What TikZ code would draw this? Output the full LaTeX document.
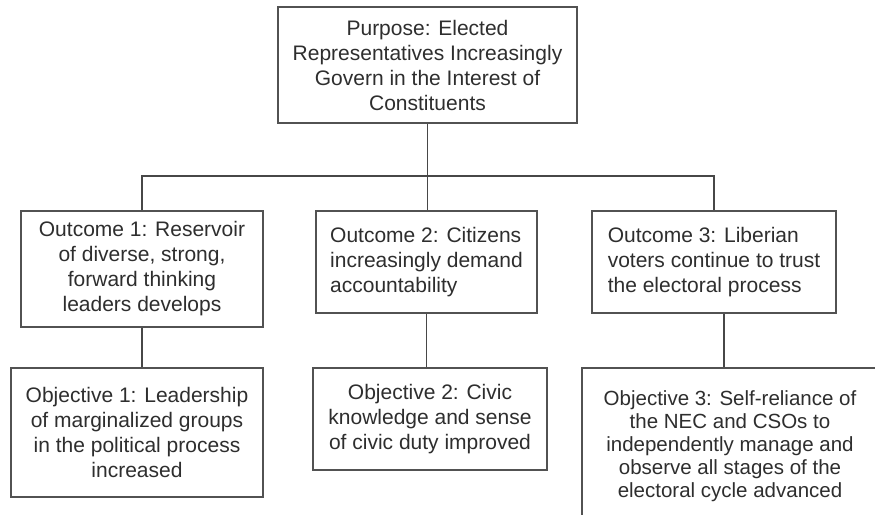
\documentclass[tikz,border=0pt]{standalone}
\usepackage{fontspec}
\setmainfont{Liberation Sans}
\begin{document}
\begin{tikzpicture}[x=1pt,y=-1pt,
  box/.style={draw=black!68, line width=1.4pt, inner sep=0pt, text=black!82,
    font=\fontsize{21}{25}\selectfont},
  conn/.style={draw=black!72, line width=1.3pt}]
\useasboundingbox (0,0) rectangle (875,514);
\fill[white] (0,0) rectangle (875,514);
\clip (0,0) rectangle (875,514);

\node[box, align=center, minimum width=299pt, minimum height=116pt] (p) at (427.5,65)
  {Purpose: Elected\\Representatives Increasingly\\Govern in the Interest of\\Constituents};

\node[box, align=center, minimum width=242pt, minimum height=116pt] (o1) at (142,269)
  {Outcome 1: Reservoir\\of diverse, strong,\\forward thinking\\leaders develops};
\node[box, align=left, minimum width=221pt, minimum height=102pt] (o2) at (426.5,262)
  {Outcome 2: Citizens\\increasingly demand\\accountability};
\node[box, align=left, minimum width=244pt, minimum height=102pt] (o3) at (714,262)
  {Outcome 3: Liberian\\voters continue to trust\\the electoral process};

\node[box, align=center, minimum width=252pt, minimum height=129pt] (ob1) at (137,432.5)
  {Objective 1: Leadership\\of marginalized groups\\in the political process\\increased};
\node[box, align=center, minimum width=234pt, minimum height=102pt] (ob2) at (430,419)
  {Objective 2: Civic\\knowledge and sense\\of civic duty improved};
\node[box, align=center, minimum width=296pt, minimum height=156pt,
  font=\fontsize{20.5}{23}\selectfont] (ob3) at (730,446)
  {Objective 3: Self-reliance of\\the NEC and CSOs to\\independently manage and\\observe all stages of the\\electoral cycle advanced};

\coordinate (bus) at (427.5,176);
\draw[conn] (p.south) -- (p.south |- o2.north);
\draw[conn] (o1.north) |- (bus) -| (o3.north);

\draw[conn] (o1.south) -- (o1.south |- ob1.north);
\draw[conn] (o2.south) -- (o2.south |- ob2.north);
\coordinate (o3b) at ([xshift=10pt]o3.south);
\draw[conn] (o3b) -- (o3b |- ob3.north);
\end{tikzpicture}
\end{document}
